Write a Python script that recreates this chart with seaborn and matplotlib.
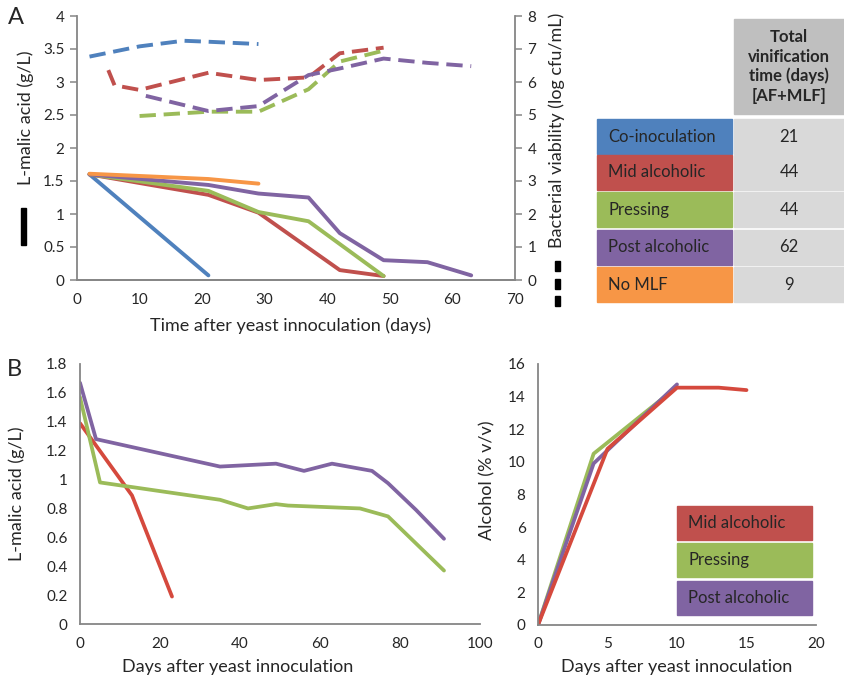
import matplotlib
matplotlib.use("Agg")
import matplotlib.pyplot as plt
from matplotlib.patches import Rectangle
import seaborn as sns
import pandas as pd

sns.set_style("white")
plt.rcParams['font.family'] = ['Lato', 'DejaVu Sans']

# ---------------- data ----------------
treatments = ["Co-inoculation", "Mid alcoholic", "Pressing", "Post alcoholic", "No MLF"]
colors = {"Co-inoculation": "#4F81BD", "Mid alcoholic": "#C0504D", "Pressing": "#9BBB59",
          "Post alcoholic": "#8064A2", "No MLF": "#F79646"}
vinif_days = ["21", "44", "44", "62", "9"]
table_header = "Total\nvinification\ntime (days)\n[AF+MLF]"

# Panel A: L-malic acid (solid)
malic_days = {
    "Co-inoculation": [2, 21],
    "Mid alcoholic": [2, 21, 29, 42, 49],
    "Pressing": [2, 21, 29, 37, 49],
    "Post alcoholic": [2, 21, 29, 37, 42, 49, 56, 63],
    "No MLF": [2, 21, 29],
}
malic_vals = {
    "Co-inoculation": [1.60, 0.07],
    "Mid alcoholic": [1.60, 1.29, 1.02, 0.15, 0.06],
    "Pressing": [1.60, 1.35, 1.03, 0.89, 0.06],
    "Post alcoholic": [1.60, 1.44, 1.31, 1.25, 0.71, 0.30, 0.27, 0.07],
    "No MLF": [1.61, 1.53, 1.46],
}
# Panel A: bacterial viability (dashed)
viab_days = {
    "Co-inoculation": [2, 10, 17, 21, 29],
    "Mid alcoholic": [5, 6, 10, 21, 29, 37, 42, 49],
    "Pressing": [10, 21, 29, 37, 42, 49],
    "Post alcoholic": [11, 21, 29, 37, 42, 49, 56, 63],
}
viab_vals = {
    "Co-inoculation": [6.77, 7.08, 7.25, 7.22, 7.15],
    "Mid alcoholic": [6.36, 5.90, 5.76, 6.28, 6.06, 6.14, 6.87, 7.04],
    "Pressing": [4.97, 5.10, 5.10, 5.78, 6.62, 6.95],
    "Post alcoholic": [5.58, 5.12, 5.27, 6.21, 6.41, 6.71, 6.58, 6.48],
}

# Panel B left: L-malic acid
b_series = ["Mid alcoholic", "Pressing", "Post alcoholic"]
b_colors = {"Mid alcoholic": "#D5493D", "Pressing": "#9BBB59", "Post alcoholic": "#8064A2"}
bm_days = {
    "Mid alcoholic": [0, 13, 23],
    "Pressing": [0, 5, 35, 42, 49, 52, 70, 77, 91],
    "Post alcoholic": [0, 4, 35, 49, 56, 63, 73, 77, 84, 91],
}
bm_vals = {
    "Mid alcoholic": [1.39, 0.89, 0.19],
    "Pressing": [1.57, 0.98, 0.86, 0.80, 0.83, 0.82, 0.80, 0.745, 0.37],
    "Post alcoholic": [1.67, 1.28, 1.09, 1.11, 1.06, 1.11, 1.06, 0.975, 0.79, 0.59],
}
# Panel B right: alcohol
ba_days = {
    "Pressing": [0, 4, 10],
    "Post alcoholic": [0, 4, 10],
    "Mid alcoholic": [0, 5, 10, 13, 15],
}
ba_vals = {
    "Pressing": [0, 10.5, 14.6],
    "Post alcoholic": [0, 9.9, 14.75],
    "Mid alcoholic": [0, 10.8, 14.55, 14.55, 14.4],
}


def long_df(days, vals, col):
    rows = []
    for k in days:
        for d, v in zip(days[k], vals[k]):
            rows.append({"series": k, "day": d, col: v})
    return pd.DataFrame(rows)


GRAY = "#868686"
TXT = "#262626"


def style_axes(ax, left=True, right=False):
    for s in ["top", "right", "left", "bottom"]:
        ax.spines[s].set_visible(False)
    if left:
        ax.spines["left"].set_visible(True)
    if right:
        ax.spines["right"].set_visible(True)
    ax.spines["bottom"].set_visible(True)
    for s in ax.spines.values():
        s.set_color(GRAY)
        s.set_linewidth(1.3)
    ax.tick_params(direction="out", length=5, width=1.1, color=GRAY,
                   labelsize=11, labelcolor=TXT, pad=4)
    ax.set_xlabel("")
    ax.set_ylabel("")


fig = plt.figure(figsize=(8.44, 6.79), dpi=100)
W, H = 844, 679


def add_ax(x0, y0, x1, y1):
    return fig.add_axes([x0 / W, 1 - y1 / H, (x1 - x0) / W, (y1 - y0) / H])


# ---------------- Panel A ----------------
axA = add_ax(77, 16, 515, 280)
dfm = long_df(malic_days, malic_vals, "malic")
sns.lineplot(data=dfm, x="day", y="malic", hue="series", palette=colors,
             estimator=None, sort=False, legend=False, lw=2.8, ax=axA)
axA.set_xlim(0, 70)
axA.set_ylim(0, 4)
axA.set_xticks(range(0, 71, 10))
axA.set_yticks([0, 0.5, 1, 1.5, 2, 2.5, 3, 3.5, 4])
axA.set_yticklabels(["0", "0.5", "1", "1.5", "2", "2.5", "3", "3.5", "4"])
style_axes(axA)

axA2 = axA.twinx()
dfv = long_df(viab_days, viab_vals, "viab")
sns.lineplot(data=dfv, x="day", y="viab", hue="series", palette=colors,
             estimator=None, sort=False, legend=False, lw=2.8, ax=axA2)
for ln in axA2.lines:
    ln.set_linestyle((0, (4.2, 2.0)))
axA2.set_ylim(0, 8)
axA2.set_xlim(0, 70)
axA2.set_yticks(range(0, 9))
style_axes(axA2, left=False, right=True)

# ---------------- Panel B left ----------------
axB = add_ax(80, 364, 480, 624)
dfb = long_df(bm_days, bm_vals, "malic")
sns.lineplot(data=dfb, x="day", y="malic", hue="series", palette=b_colors,
             estimator=None, sort=False, legend=False, lw=2.7, ax=axB)
axB.set_xlim(0, 100)
axB.set_ylim(0, 1.8)
axB.set_xticks(range(0, 101, 20))
axB.set_yticks([0, 0.2, 0.4, 0.6, 0.8, 1.0, 1.2, 1.4, 1.6, 1.8])
axB.set_yticklabels(["0", "0.2", "0.4", "0.6", "0.8", "1", "1.2", "1.4", "1.6", "1.8"])
style_axes(axB)

# ---------------- Panel B right ----------------
axC = add_ax(538, 364, 816, 625)
dfa = long_df(ba_days, ba_vals, "alc")
sns.lineplot(data=dfa, x="day", y="alc", hue="series", palette=b_colors,
             hue_order=["Pressing", "Post alcoholic", "Mid alcoholic"],
             estimator=None, sort=False, legend=False, lw=2.7, ax=axC)
axC.set_xlim(0, 20)
axC.set_ylim(0, 16)
axC.set_xticks(range(0, 21, 5))
axC.set_yticks(range(0, 17, 2))
style_axes(axC)

# ---------------- overlay (labels, table, legend) ----------------
ov = fig.add_axes([0, 0, 1, 1], zorder=10)
ov.set_xlim(0, W)
ov.set_ylim(H, 0)
ov.axis("off")
ov.patch.set_alpha(0)

ov.text(16, 18, "A", fontsize=17, ha="center", va="center", color=TXT)
ov.text(14, 370, "B", fontsize=17, ha="center", va="center", color=TXT)

# axis labels
ov.text(290, 326, "Time after yeast innoculation (days)", fontsize=13, ha="center", va="center", color=TXT)
ov.text(26, 118, "L-malic acid (g/L)", fontsize=13, rotation=90, ha="center", va="center", color=TXT)
ov.add_patch(Rectangle((21, 208), 4.5, 37, color="black"))
ov.text(557, 130, "Bacterial viability (log cfu/mL)", fontsize=13, rotation=90, ha="center", va="center", color=TXT)
for y0 in [261, 279, 296]:
    ov.add_patch(Rectangle((555, y0), 4.5, 10, color="black"))

ov.text(238, 667, "Days after yeast innoculation", fontsize=13, ha="center", va="center", color=TXT)
ov.text(17, 494, "L-malic acid (g/L)", fontsize=13, rotation=90, ha="center", va="center", color=TXT)
ov.text(677, 667, "Days after yeast innoculation", fontsize=13, ha="center", va="center", color=TXT)
ov.text(487, 480, "Alcohol (% v/v)", fontsize=13, rotation=90, ha="center", va="center", color=TXT)

# table
ov.add_patch(Rectangle((734, 19), 110, 95, color="#BFBFBF"))
ov.text(789, 66.5, table_header, fontsize=12, fontweight="bold", ha="center", va="center",
        color=TXT, linespacing=1.25)
row_tops = [119.3, 155, 192.3, 230, 267.3]
row_h = 34.5
for name, val, top in zip(treatments, vinif_days, row_tops):
    ov.add_patch(Rectangle((597, top), 135, row_h, color=colors[name]))
    ov.add_patch(Rectangle((734, top), 110, row_h, color="#D9D9D9"))
    ov.text(608, top + row_h / 2, name, fontsize=12, ha="left", va="center", color=TXT)
    ov.text(789, top + row_h / 2, val, fontsize=12, ha="center", va="center", color=TXT)

# legend B right
leg_tops = [506, 542.5, 581]
for name, top in zip(b_series, leg_tops):
    ov.add_patch(Rectangle((677, top), 135, 34, color=colors[name]))
    ov.text(688, top + 17, name, fontsize=12, ha="left", va="center", color=TXT)

fig.savefig("out.png", dpi=100)
